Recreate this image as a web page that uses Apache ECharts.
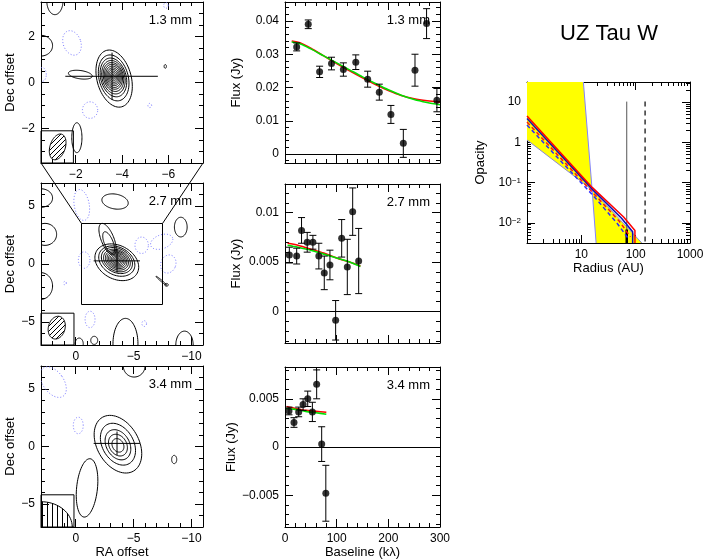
<!DOCTYPE html>
<html>
<head>
<meta charset="utf-8">
<script src="https://cdn.jsdelivr.net/npm/echarts@6/dist/echarts.min.js"></script>
<style>
  html, body { margin: 0; background: #fff; }
  #chart { width: 707px; height: 559px; }
</style>
</head>
<body>
<div id="chart"></div>
<script>
const FONT = '"Liberation Sans", Arial, sans-serif';

// ---------- contour maps (offsets in arcsec) ----------
const mapLabels = ['1.3 mm', '2.7 mm', '3.4 mm'];
const map1Range = [-7.5, -0.5, -3.5, 3.5];   // ra min, ra max, dec min, dec max
const map23Range = [-11, 3, -7, 7];
const map1MajorX = [-2, -4, -6];
const map1MinorX = [-1, -1.5, -2.5, -3, -3.5, -4.5, -5, -5.5, -6.5, -7];
const map1MajorY = [-2, 0, 2];
const map1MinorY = [-3, -2.5, -1.5, -1, -0.5, 0.5, 1, 1.5, 2.5, 3];
const map23MajorX = [0, -5, -10];
const map23MinorX = [2, 1, -1, -2, -3, -4, -6, -7, -8, -9];
const map23MajorY = [-5, 0, 5];
const map23MinorY = [-6, -4, -3, -2, -1, 1, 2, 3, 4, 6];

// contour levels as ellipses: [ra, dec, half width, half height, tilt deg]
const map1Pos = [
  [-3.66, 0.17, 0.74, 1.27, 15], [-3.64, 0.2, 0.63, 1.02, 15], [-3.63, 0.22, 0.55, 0.86, 15],
  [-3.63, 0.23, 0.49, 0.74, 14], [-3.63, 0.24, 0.43, 0.64, 14], [-3.63, 0.25, 0.38, 0.55, 13],
  [-3.63, 0.25, 0.33, 0.47, 12], [-3.63, 0.25, 0.28, 0.39, 12], [-3.63, 0.25, 0.23, 0.32, 12],
  [-3.63, 0.25, 0.18, 0.25, 12], [-3.63, 0.25, 0.13, 0.18, 12], [-3.63, 0.25, 0.08, 0.11, 12],
  [-3.63, 0.25, 0.04, 0.05, 12],
  [-2.2, 0.34, 0.52, 0.18, -8], [-1.1, 3.55, 0.35, 0.6, 0], [-0.5, 1.6, 0.5, 0.45, 0],
  [-2.05, -2.4, 0.22, 0.65, 0], [-5.87, 0.7, 0.05, 0.08, 0]
];
const map1Neg = [
  [-1.84, 1.72, 0.38, 0.55, 20], [-2.62, -1.2, 0.33, 0.36, 0], [-5.2, -1.0, 0.08, 0.09, 0],
  [-5.9, 3.35, 0.1, 0.12, 0], [-0.55, 0.35, 0.18, 0.3, 0]
];
const map2Pos = [
  [-3.55, 0.15, 2.0, 1.45, -28], [-2.75, 2.15, 0.55, 1.45, 22], [-2.85, 1.85, 0.38, 1.0, 22],
  [-3.55, 0.25, 1.65, 1.2, -28], [-3.56, 0.3, 1.42, 1.03, -28], [-3.56, 0.3, 1.22, 0.9, -28],
  [-3.56, 0.32, 1.05, 0.78, -28], [-3.56, 0.33, 0.9, 0.67, -28], [-3.56, 0.34, 0.76, 0.57, -28],
  [-3.56, 0.34, 0.63, 0.47, -28], [-3.56, 0.34, 0.5, 0.38, -28], [-3.56, 0.34, 0.38, 0.29, -28],
  [-3.56, 0.34, 0.27, 0.2, -28], [-3.56, 0.34, 0.16, 0.12, -28], [-3.56, 0.34, 0.07, 0.06, -28],
  [3.0, 5.7, 1.0, 0.8, 0], [-3.4, 5.4, 1.15, 0.64, -10], [2.65, 2.56, 1.0, 0.95, 0],
  [3.0, -1.9, 1.0, 1.15, 0], [-9.08, 3.19, 0.55, 0.85, 0], [-9.4, -7.0, 0.75, 1.2, 0],
  [-4.3, -6.9, 1.08, 2.2, 0], [-0.3, -6.9, 0.35, 0.5, 0], [-1.6, -6.6, 0.3, 0.35, 0],
  [-7.4, -1.45, 0.6, 0.06, -40], [-7.85, -1.8, 0.15, 0.12, 0]
];
const map2Neg = [
  [-0.52, 5.1, 0.65, 1.35, 10], [-5.7, 1.62, 0.58, 0.71, 0], [-7.43, 1.92, 1.0, 0.6, 20],
  [-8.0, 0.0, 0.65, 0.8, -20], [-0.73, 0.34, 0.5, 0.71, 0], [0.93, -1.65, 0.12, 0.15, 0],
  [-1.24, -4.79, 0.43, 0.71, 0], [-5.92, -5.15, 0.2, 0.25, 0]
];
const map3Pos = [
  [-3.65, 0.2, 1.8, 2.7, 30], [-3.65, 0.2, 1.35, 1.95, 30], [-3.65, 0.15, 1.0, 1.4, 30],
  [-3.65, 0.12, 0.75, 1.0, 30], [-3.65, 0.1, 0.48, 0.62, 30],
  [-5.05, 7.0, 0.94, 0.96, 0], [-0.98, -3.6, 0.9, 2.55, -6], [-8.51, -1.13, 0.22, 0.36, 0]
];
const map3Neg = [
  [1.94, 5.6, 0.9, 1.5, 35], [-0.22, 1.83, 0.43, 0.72, 0]
];
const crossCentre = [-3.57, 0.27];
const crossRA = [-1.55, -5.55];
const crossDec = [-0.75, 1.3];
const beams = [[-1.22, -2.8, 0.33, 0.58, -18], [1.64, -5.5, 0.72, 1.0, -15], [3.0, -7.0, 2.7, 2.2, 0]];
const beamBoxes = [[-0.5, -1.9, -3.5, -2.1], [3, 0.15, -7, -4.25], [3, 0.15, -7, -4.2]];
const beamHatch = ['d', 'd', 'v'];

// ---------- visibilities ----------
const baseMajor = [0, 100, 200, 300];
const baseMinor = [20, 40, 60, 80, 120, 140, 160, 180, 220, 240, 260, 280];

const base13 = [22.6, 45, 67, 90, 113, 137, 160, 182.5, 205, 229, 251.6, 274, 294];
const flux13 = [0.0322, 0.0390, 0.0247, 0.0272, 0.0254, 0.0276, 0.0225, 0.0186, 0.0119, 0.0032, 0.0252, 0.0392, 0.0162];
const err13 = [0.0012, 0.0013, 0.0017, 0.0019, 0.0020, 0.0022, 0.0024, 0.0024, 0.0027, 0.0042, 0.0048, 0.0045, 0.0035];
const modelBase13 = [13, 30, 50, 75, 100, 125, 150, 175, 200, 225, 250, 275, 300];
const red13 = [0.0340, 0.0334, 0.0318, 0.0295, 0.0272, 0.0250, 0.0229, 0.0209, 0.0191, 0.0176, 0.0166, 0.0160, 0.0156];
const green13 = [0.0337, 0.0331, 0.0316, 0.0295, 0.0274, 0.0253, 0.0232, 0.0212, 0.0193, 0.0177, 0.0164, 0.0155, 0.0148];
const flux13Major = [0, 0.01, 0.02, 0.03, 0.04];
const flux13Minor = [-0.002, 0.002, 0.004, 0.006, 0.008, 0.012, 0.014, 0.016, 0.018, 0.022, 0.024, 0.026, 0.028, 0.032, 0.034, 0.036, 0.038, 0.042, 0.044];

const base27 = [8.4, 22.6, 32, 43, 54, 65.5, 76, 87, 98, 109.7, 120.6, 131, 142.6];
const flux27 = [0.0057, 0.0056, 0.0082, 0.0070, 0.0070, 0.0056, 0.0039, 0.0047, -0.0009, 0.0074, 0.0045, 0.0101, 0.0051];
const err27 = [0.0008, 0.0008, 0.0013, 0.0010, 0.0007, 0.0013, 0.0017, 0.0015, 0.0020, 0.0019, 0.0028, 0.0024, 0.0033];
const modelBase27 = [5, 25, 50, 75, 100, 125, 146];
const red27 = [0.0069, 0.0067, 0.0063, 0.0059, 0.0054, 0.0050, 0.0046];
const green27 = [0.0067, 0.0065, 0.0062, 0.0058, 0.0054, 0.0050, 0.00455];
const flux27Major = [0, 0.005, 0.01];
const flux27Minor = [-0.003, -0.002, -0.001, 0.001, 0.002, 0.003, 0.004, 0.006, 0.007, 0.008, 0.009, 0.011, 0.012];

const base34 = [7.7, 17.4, 26.5, 35, 44, 53, 61.3, 71, 79];
const flux34 = [0.00374, 0.00254, 0.00364, 0.0044, 0.0050, 0.00364, 0.0065, 0.0003, -0.0048];
const err34 = [0.0004, 0.0005, 0.0005, 0.0006, 0.0008, 0.0010, 0.0015, 0.0018, 0.0029];
const modelBase34 = [3, 20, 40, 60, 80];
const red34 = [0.0042, 0.0040, 0.0038, 0.0037, 0.0036];
const green34 = [0.0040, 0.0039, 0.0037, 0.00355, 0.0034];
const flux34Major = [-0.005, 0, 0.005];
const flux34Minor = [-0.008, -0.007, -0.006, -0.004, -0.003, -0.002, -0.001, 0.001, 0.002, 0.003, 0.004, 0.006, 0.007, 0.008];

// ---------- opacity profile ----------
const tauMin = Math.pow(10, -2.5), tauMax = Math.pow(10, 1.5);
const radiusMajor = [10, 100];
const radiusLabels = [10, 100, 1000];
const radiusMinor = [2, 3, 4, 5, 6, 7, 8, 9, 20, 30, 40, 50, 60, 70, 80, 90, 200, 300, 400, 500, 600, 700, 800, 900];
const tauMajor = [0.01, 0.1, 1, 10];
const tauMinor = [0.004, 0.005, 0.006, 0.007, 0.008, 0.009, 0.02, 0.03, 0.04, 0.05, 0.06, 0.07, 0.08, 0.09,
  0.2, 0.3, 0.4, 0.5, 0.6, 0.7, 0.8, 0.9, 2, 3, 4, 5, 6, 7, 8, 9, 20, 30];
const edgeA = [[10.9, tauMax], [15.8, 0.066], [18.7, tauMin]];
const edgeB = [[1, 1.15], [15.8, 0.066], [130, tauMin]];
const redSolidR = [1, 16, 60, 97, 97], redSolidTau = [4.5, 0.075, 0.014, 0.0065, tauMin];
const blueSolidR = [1, 16, 55, 88, 88], blueSolidTau = [3.9, 0.068, 0.013, 0.006, tauMin];
const redDashR = [1, 16, 50, 80], redDashTau = [3.2, 0.058, 0.011, 0.0045];
const blueDashR = [1, 16, 45, 72], blueDashTau = [2.7, 0.05, 0.01, 0.0042];
const rOuterSolid = 68.5, rOuterDash = 149, tauLineTop = 10.3, tauThickTop = 0.0068;

// ---------- helpers ----------
const minus = v => String(v).replace('-', '\u2212');
const xAxes = [], yAxes = [], grids = [], series = [];

function addAxes(list, dim, grid, c) {
  const first = list.length;
  const sides = dim === 'x' ? ['bottom', 'top'] : ['left', 'right'];
  sides.forEach((side, si) => {
    [c.major, c.minor].forEach((ticks, ti) => {
      const main = si === 0 && ti === 0;
      list.push({
        type: c.type || 'value', gridIndex: grid, position: side,
        min: c.min, max: c.max, inverse: !!c.inverse, logBase: 10, silent: true,
        name: main ? (c.name || '') : '', nameLocation: 'middle', nameGap: c.nameGap || 0,
        nameTextStyle: { fontFamily: FONT, fontSize: 13, color: '#000' },
        axisLine: { show: ti === 0, onZero: false, lineStyle: { color: '#000', width: 1 } },
        axisTick: { show: true, inside: true, length: ti === 0 ? 8 : 4, customValues: ticks, lineStyle: { color: '#000', width: 1 } },
        axisLabel: {
          show: main && c.labels !== false, customValues: c.labelValues || c.major,
          formatter: c.fmt || minus, margin: 6, fontFamily: FONT, fontSize: 12, color: '#000',
          rich: c.rich, showMinLabel: true, showMaxLabel: true, hideOverlap: false
        },
        splitLine: { show: false }
      });
    });
  });
  return first;
}

function ellipsePoints(api, e) {
  const c = api.coord([e[0], e[1]]);
  const s = api.size([e[2], e[3]], [e[0], e[1]]);
  const rx = Math.abs(s[0]), ry = Math.abs(s[1]), a = e[4] * Math.PI / 180;
  const pts = [];
  for (let i = 0; i < 72; i++) {
    const t = i / 72 * 2 * Math.PI;
    const u = rx * Math.cos(t), v = ry * Math.sin(t);
    pts.push([c[0] + u * Math.cos(a) - v * Math.sin(a), c[1] - (u * Math.sin(a) + v * Math.cos(a))]);
  }
  return pts;
}

function contourItem(stroke, dash) {
  return function (params, api) {
    const cs = params.coordSys;
    const e = [0, 1, 2, 3, 4].map(k => api.value(k));
    return {
      type: 'polygon', shape: { points: ellipsePoints(api, e) },
      style: { fill: 'none', stroke: stroke, lineWidth: 1, lineDash: dash },
      clipPath: { type: 'rect', shape: { x: cs.x, y: cs.y, width: cs.width, height: cs.height } }
    };
  };
}

function hatch(kind) {
  const s = 5, cv = document.createElement('canvas');
  cv.width = s; cv.height = s;
  const g = cv.getContext('2d');
  g.strokeStyle = '#000'; g.lineWidth = 1;
  g.beginPath();
  if (kind === 'v') { g.moveTo(2.5, 0); g.lineTo(2.5, s); }
  else { g.moveTo(-1, s + 1); g.lineTo(s + 1, -1); g.moveTo(-1, 1); g.lineTo(1, -1); g.moveTo(s - 1, s + 1); g.lineTo(s + 1, s - 1); }
  g.stroke();
  return cv;
}

function beamItem(params, api) {
  const v = k => api.value(k);
  const e = [v(0), v(1), v(2), v(3), v(4)];
  const p0 = api.coord([v(5), v(8)]), p1 = api.coord([v(6), v(7)]);
  const rect = { x: Math.min(p0[0], p1[0]), y: Math.min(p0[1], p1[1]), width: Math.abs(p1[0] - p0[0]), height: Math.abs(p1[1] - p0[1]) };
  return {
    type: 'group', children: [
      { type: 'polygon', shape: { points: ellipsePoints(api, e) },
        style: { fill: { image: hatch(beamHatch[v(9)]), repeat: 'repeat' }, stroke: '#000', lineWidth: 1 },
        clipPath: { type: 'rect', shape: rect } },
      { type: 'rect', shape: rect, style: { fill: 'none', stroke: '#000', lineWidth: 1 } }
    ]
  };
}

function errItem(params, api) {
  const x = api.value(0), y = api.value(1), e = api.value(2);
  const lo = api.coord([x, y - e]), hi = api.coord([x, y + e]), w = 3.5;
  const st = { stroke: '#000', lineWidth: 1 };
  return {
    type: 'group', children: [
      { type: 'line', shape: { x1: lo[0], y1: lo[1], x2: hi[0], y2: hi[1] }, style: st },
      { type: 'line', shape: { x1: lo[0] - w, y1: lo[1], x2: lo[0] + w, y2: lo[1] }, style: st },
      { type: 'line', shape: { x1: hi[0] - w, y1: hi[1], x2: hi[0] + w, y2: hi[1] }, style: st }
    ]
  };
}

const lineSeries = (xi, yi, data, color, width, type) => ({
  type: 'line', xAxisIndex: xi, yAxisIndex: yi, data: data, symbol: 'none', silent: true,
  lineStyle: { color: color, width: width, type: type || 'solid' }, z: 4
});

// ---------- maps ----------
const mapGrids = [
  { left: 41, top: 2, width: 162, height: 161 },
  { left: 41, top: 183, width: 162, height: 162 },
  { left: 41, top: 366, width: 162, height: 161 }
];
const mapPos = [map1Pos, map2Pos, map3Pos], mapNeg = [map1Neg, map2Neg, map3Neg];
const mapAxes = [];
mapGrids.forEach((g, i) => {
  grids.push(g);
  const r = i === 0 ? map1Range : map23Range;
  const xi = addAxes(xAxes, 'x', i, {
    min: r[0], max: r[1], inverse: true,
    major: i === 0 ? map1MajorX : map23MajorX, minor: i === 0 ? map1MinorX : map23MinorX,
    name: i === 2 ? 'RA offset' : '', nameGap: 18
  });
  const yi = addAxes(yAxes, 'y', i, {
    min: r[2], max: r[3],
    major: i === 0 ? map1MajorY : map23MajorY, minor: i === 0 ? map1MinorY : map23MinorY,
    name: 'Dec offset', nameGap: 23
  });
  mapAxes.push([xi, yi]);
  series.push({ type: 'custom', xAxisIndex: xi, yAxisIndex: yi, silent: true, encode: { x: 0, y: 1 },
    renderItem: contourItem('#000', null), data: mapPos[i], z: 3 });
  series.push({ type: 'custom', xAxisIndex: xi, yAxisIndex: yi, silent: true, encode: { x: 0, y: 1 },
    renderItem: contourItem('#7474ff', [1, 2]), data: mapNeg[i], z: 3 });
  series.push({ type: 'custom', xAxisIndex: xi, yAxisIndex: yi, silent: true, encode: { x: 0, y: 1 },
    renderItem: beamItem, data: [beams[i].concat(beamBoxes[i], [i])], z: 3 });
  series.push(lineSeries(xi, yi, [[crossRA[0], crossCentre[1]], [crossRA[1], crossCentre[1]]], '#000', 1));
  series.push(lineSeries(xi, yi, [[crossCentre[0], crossDec[0]], [crossCentre[0], crossDec[1]]], '#000', 1));
  if (i === 1) {
    const r1 = map1Range;
    series.push(lineSeries(xi, yi, [[r1[1], r1[3]], [r1[0], r1[3]], [r1[0], r1[2]], [r1[1], r1[2]], [r1[1], r1[3]]], '#000', 1));
  }
});

// ---------- visibility panels ----------
const visGrids = [
  { left: 285, top: 2, width: 155, height: 161 },
  { left: 285, top: 184, width: 155, height: 159 },
  { left: 285, top: 367, width: 155, height: 160 }
];
const visSets = [
  { b: base13, f: flux13, e: err13, mb: modelBase13, red: red13, green: green13, min: -0.0027, max: 0.0457, major: flux13Major, minor: flux13Minor },
  { b: base27, f: flux27, e: err27, mb: modelBase27, red: red27, green: green27, min: -0.0032, max: 0.0129, major: flux27Major, minor: flux27Minor },
  { b: base34, f: flux34, e: err34, mb: modelBase34, red: red34, green: green34, min: -0.0083, max: 0.0083, major: flux34Major, minor: flux34Minor }
];
visGrids.forEach((g, i) => {
  const gi = grids.length;
  grids.push(g);
  const s = visSets[i];
  const xi = addAxes(xAxes, 'x', gi, {
    min: 0, max: 300, major: baseMajor, minor: baseMinor, labels: i === 2,
    name: i === 2 ? 'Baseline (k\u03bb)' : '', nameGap: 18
  });
  const yi = addAxes(yAxes, 'y', gi, {
    min: s.min, max: s.max, major: s.major, minor: s.minor, name: 'Flux (Jy)', nameGap: 42
  });
  series.push({
    type: 'scatter', xAxisIndex: xi, yAxisIndex: yi, silent: true, symbolSize: 7,
    itemStyle: { color: '#000' }, data: s.b.map((b, k) => [b, s.f[k]]), z: 6,
    markLine: { silent: true, symbol: 'none', label: { show: false },
      lineStyle: { color: '#000', type: 'solid', width: 1 }, data: [{ yAxis: 0 }] }
  });
  series.push({ type: 'custom', xAxisIndex: xi, yAxisIndex: yi, silent: true, encode: { x: 0, y: 1 },
    renderItem: errItem, data: s.b.map((b, k) => [b, s.f[k], s.e[k]]), z: 5 });
  const red = lineSeries(xi, yi, s.mb.map((b, k) => [b, s.red[k]]), '#ff0000', 1.6);
  const green = lineSeries(xi, yi, s.mb.map((b, k) => [b, s.green[k]]), '#00e000', 1.6);
  red.smooth = 0.3; green.smooth = 0.3;
  series.push(red, green);
});

// ---------- opacity panel ----------
const rg = grids.length;
grids.push({ left: 527, top: 82, width: 163, height: 161 });
const rx = addAxes(xAxes, 'x', rg, {
  type: 'log', min: 1, max: 1000, major: radiusMajor, minor: radiusMinor, labelValues: radiusLabels,
  fmt: v => String(Math.round(v)), name: 'Radius (AU)', nameGap: 19
});
const ry = addAxes(yAxes, 'y', rg, {
  type: 'log', min: tauMin, max: tauMax, major: tauMajor, minor: tauMinor, name: 'Opacity', nameGap: 40,
  fmt: v => {
    const e = Math.round(Math.log10(v));
    if (e === 0) return '{b|1}';
    if (e === 1) return '{b|10}';
    return '{b|10}{s|\u2212' + (-e) + '}';
  },
  rich: { b: { fontSize: 12, fontFamily: FONT, color: '#000' }, s: { fontSize: 8, fontFamily: FONT, color: '#000', verticalAlign: 'top' } }
});
const yellowPolys = [
  [[1, tauMax], edgeA[0], edgeA[1], edgeB[0]],
  [edgeA[1], edgeB[2], edgeA[2]]
];
series.push({
  type: 'custom', xAxisIndex: rx, yAxisIndex: ry, silent: true, encode: { x: 0, y: 1 },
  data: yellowPolys.map(p => p[0]), z: 2,
  renderItem: (params, api) => ({
    type: 'polygon', shape: { points: yellowPolys[params.dataIndex].map(p => api.coord(p)) },
    style: { fill: '#ffff00', stroke: 'none' }
  })
});
series.push(lineSeries(rx, ry, edgeA, '#8282ff', 1));
series.push(lineSeries(rx, ry, edgeB, '#8a8ad8', 1));
series.push(lineSeries(rx, ry, [[rOuterSolid, tauLineTop], [rOuterSolid, tauMin]], '#555', 1));
series.push(lineSeries(rx, ry, [[rOuterSolid, tauThickTop], [rOuterSolid, tauMin]], '#000', 2.5));
series.push(lineSeries(rx, ry, [[rOuterDash, tauLineTop], [rOuterDash, tauMin]], '#000', 1.2, [5, 4]));
series.push(lineSeries(rx, ry, blueDashR.map((r, k) => [r, blueDashTau[k]]), '#2a2aff', 1.5, [4, 3]));
series.push(lineSeries(rx, ry, redDashR.map((r, k) => [r, redDashTau[k]]), '#ff1010', 1.5, [4, 3]));
series.push(lineSeries(rx, ry, blueSolidR.map((r, k) => [r, blueSolidTau[k]]), '#1010b0', 1.5));
series.push(lineSeries(rx, ry, redSolidR.map((r, k) => [r, redSolidTau[k]]), '#ff0000', 1.5));

// ---------- panel captions ----------
const textEl = (x, y, text, size, align) => ({
  type: 'text', x: x, y: y, silent: true,
  style: { text: text, font: size + 'px ' + FONT, fill: '#000', align: align, textAlign: align, verticalAlign: 'middle', textVerticalAlign: 'middle' }
});
const captions = [];
mapGrids.forEach((g, i) => captions.push(textEl(g.left + g.width - 11, g.top + 18, mapLabels[i], 13, 'right')));
visGrids.forEach((g, i) => captions.push(textEl(g.left + g.width - 10, g.top + 18, mapLabels[i], 13, 'right')));
captions.push(textEl(609, 34, 'UZ Tau W', 22, 'center'));

const chart = echarts.init(document.getElementById('chart'), null, { renderer: 'canvas' });
chart.setOption({
  animation: false,
  backgroundColor: '#fff',
  grid: grids.map(g => Object.assign({ outerBoundsMode: 'none' }, g)),
  xAxis: xAxes,
  yAxis: yAxes,
  series: series,
  graphic: captions
});

// lines joining the 1.3 mm field to its outline on the 2.7 mm map
const toPx = (m, p) => chart.convertToPixel({ xAxisIndex: mapAxes[m][0], yAxisIndex: mapAxes[m][1] }, p);
const r1 = map1Range;
const joins = [
  [toPx(0, [r1[1], r1[2]]), toPx(1, [r1[1], r1[3]])],
  [toPx(0, [r1[0], r1[2]]), toPx(1, [r1[0], r1[3]])]
].map(([a, b]) => ({ type: 'line', silent: true, shape: { x1: a[0], y1: a[1], x2: b[0], y2: b[1] }, style: { stroke: '#000', lineWidth: 1 } }));
chart.setOption({ graphic: captions.concat(joins) });
</script>
</body>
</html>
